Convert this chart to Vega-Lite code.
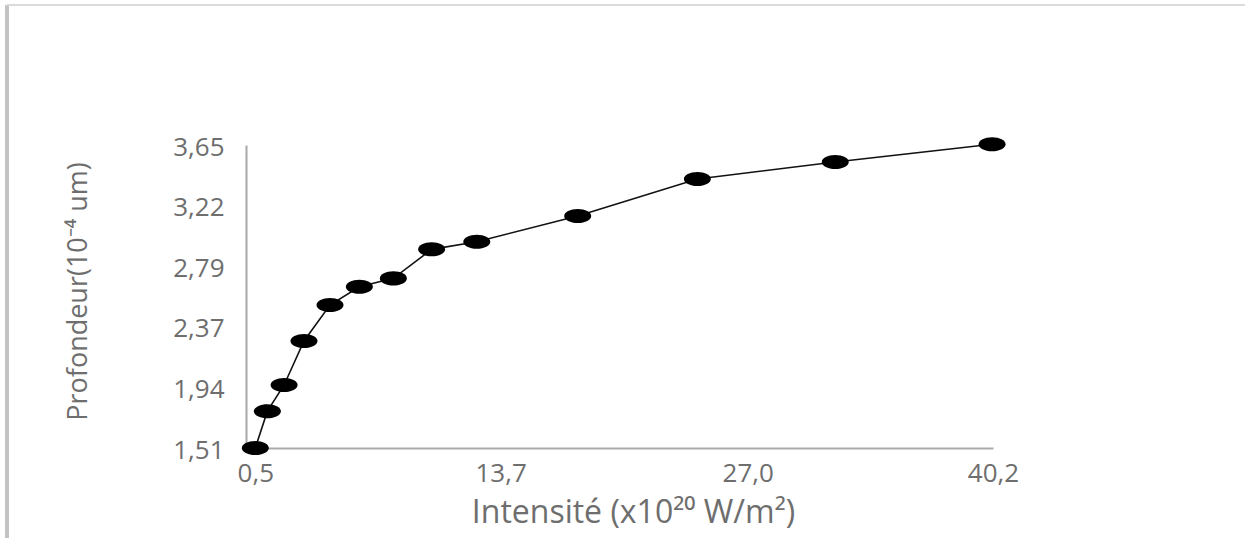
{
  "$schema": "https://vega.github.io/schema/vega-lite/v6.json",
  "width": 747,
  "height": 303,
  "autosize": "none",
  "padding": {"left": 246, "top": 145, "right": 252, "bottom": 90},
  "background": "white",
  "config": {"view": {"stroke": null}, "font": "Open Sans"},
  "data": {
    "values": [
      {"intensite": 0.5, "profondeur": 1.51},
      {"intensite": 1.15, "profondeur": 1.77},
      {"intensite": 2.05, "profondeur": 1.955},
      {"intensite": 3.12, "profondeur": 2.266},
      {"intensite": 4.52, "profondeur": 2.52},
      {"intensite": 6.1, "profondeur": 2.649},
      {"intensite": 7.93, "profondeur": 2.708},
      {"intensite": 9.99, "profondeur": 2.913},
      {"intensite": 12.42, "profondeur": 2.967},
      {"intensite": 17.85, "profondeur": 3.149},
      {"intensite": 24.29, "profondeur": 3.41},
      {"intensite": 31.71, "profondeur": 3.53},
      {"intensite": 40.15, "profondeur": 3.655}
    ]
  },
  "encoding": {
    "x": {
      "field": "intensite",
      "type": "quantitative",
      "scale": {"domain": [0, 40.2], "nice": false, "zero": false},
      "axis": {
        "values": [0.5, 13.7, 27.0, 40.2],
        "labelExpr": "replace(format(datum.value, '.1f'), '.', ',')",
        "grid": false,
        "ticks": false,
        "tickSize": 0,
        "domainColor": "#ababab",
        "domainWidth": 2,
        "labelFontSize": 26,
        "labelColor": "#6e6e6e",
        "labelPadding": 12,
        "labelFlush": false,
        "title": "Intensité (x10²⁰ W/m²)",
        "titleFontSize": 32,
        "titleFontWeight": "normal",
        "titleColor": "#6e6e6e",
        "titleX": 387,
        "titleY": 64,
        "titleAlign": "center",
        "titleBaseline": "middle"
      }
    },
    "y": {
      "field": "profondeur",
      "type": "quantitative",
      "scale": {"domain": [1.51, 3.65], "nice": false, "zero": false},
      "axis": {
        "values": [1.51, 1.94, 2.37, 2.79, 3.22, 3.65],
        "labelExpr": "replace(format(datum.value, '.2f'), '.', ',')",
        "grid": false,
        "ticks": false,
        "tickSize": 0,
        "domainColor": "#a8a8a8",
        "domainWidth": 2,
        "labelFontSize": 26,
        "labelColor": "#6e6e6e",
        "labelPadding": 22,
        "labelOffset": 2,
        "title": "Profondeur(10⁻⁴ um)",
        "titleFontSize": 27,
        "titleFontWeight": "normal",
        "titleColor": "#6e6e6e",
        "titleAngle": -90,
        "titleX": -168,
        "titleY": 146,
        "titleAlign": "center",
        "titleBaseline": "middle"
      }
    }
  },
  "layer": [
    {
      "mark": {"type": "rule", "color": "#c2c2c2", "strokeWidth": 2.5, "clip": false},
      "encoding": {
        "x": {"datum": -12.86, "type": "quantitative"},
        "y": {"datum": 4.639, "type": "quantitative"},
        "y2": {"datum": 0.87}
      }
    },
    {
      "mark": {"type": "rule", "color": "#dadada", "strokeWidth": 2, "clip": false},
      "encoding": {
        "x": {"datum": -12.86, "type": "quantitative"},
        "x2": {"datum": 53.8},
        "y": {"datum": 4.639, "type": "quantitative"}
      }
    },
    {
      "mark": {"type": "line", "color": "#111111", "strokeWidth": 1.6}
    },
    {
      "mark": {
        "type": "point",
        "filled": true,
        "color": "#000000",
        "opacity": 1,
        "size": 729,
        "shape": "M-1,0A1,0.52 0 1,0 1,0A1,0.52 0 1,0 -1,0Z"
      }
    }
  ]
}
